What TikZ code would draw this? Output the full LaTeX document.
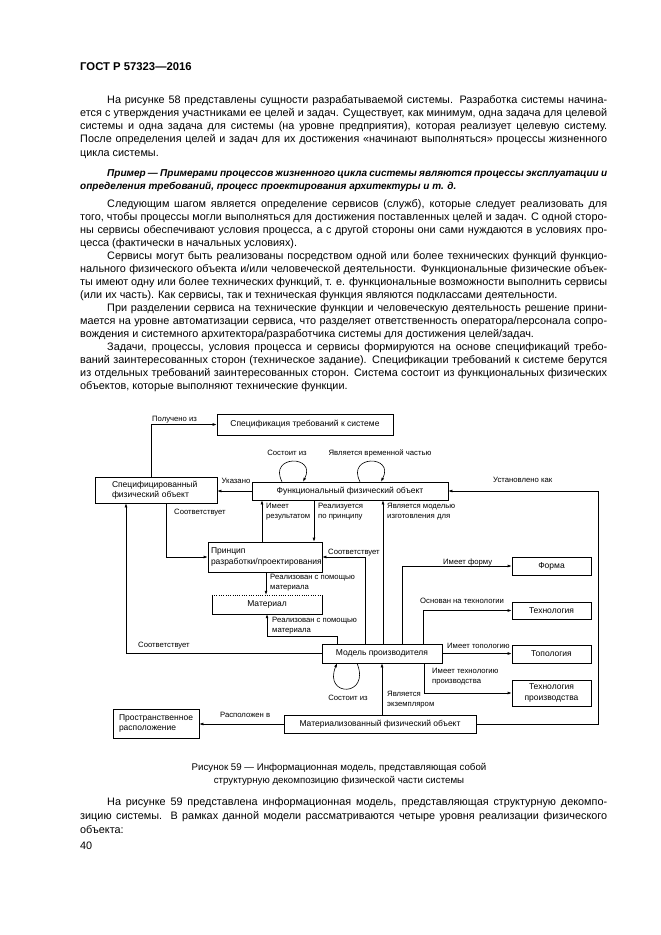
\documentclass[tikz,border=0pt]{standalone}
\usepackage{fontspec}
\setmainfont{Liberation Sans}
\usetikzlibrary{arrows.meta,calc}
\newcommand{\jl}[5]{\node[txt] (#1) at (#2,#3) {\makebox[#4pt][s]{#5}};}
\newcommand{\nl}[4]{\node[txt] (#1) at (#2,#3) {#4};}
\begin{document}
\begin{tikzpicture}[x=1pt,y=-1pt,
 txt/.style={anchor=mid west, inner sep=0pt, font=\fontsize{10.85}{13}\selectfont},
 ex/.style={txt, font=\bfseries\itshape\fontsize{10}{12}\selectfont},
 captxt/.style={anchor=mid, inner sep=0pt, font=\fontsize{9.7}{11}\selectfont},
 box/.style={draw, line width=0.6pt, inner sep=0pt, font=\fontsize{8.5}{10.5}\selectfont, align=center},
 lbl/.style={inner sep=0pt, font=\fontsize{7.7}{10}\selectfont, align=left},
 arr/.style={line width=0.6pt, -{Latex[length=4pt,width=2.8pt]}},
 ln/.style={line width=0.6pt}]
\fill[white] (0,0) rectangle (661,935);
\useasboundingbox (0,0) rectangle (661,935);

\node[anchor=mid west, inner sep=0pt, font=\bfseries\fontsize{11.3}{13}\selectfont] (hdr) at (80,68) {ГОСТ Р 57323—2016};

% paragraph 1
\jl{a1}{107}{101}{500}{На рисунке 58 представлены сущности разрабатываемой системы. Разработка системы начина-}
\jl{a2}{80}{114.1}{527}{ется с утверждения участниками ее целей и задач. Существует, как минимум, одна задача для целевой}
\jl{a3}{80}{127.2}{527}{системы и одна задача для системы (на уровне предприятия), которая реализует целевую систему.}
\jl{a4}{80}{140.3}{527}{После определения целей и задач для их достижения «начинают выполняться» процессы жизненного}
\nl{a5}{80}{153.4}{цикла системы.}

% example
\node[ex] (e1) at (107,173.5) {\makebox[500pt][s]{Пример — Примерами процессов жизненного цикла системы являются процессы эксплуатации и}};
\node[ex] (e2) at (80,186.5) {определения требований, процесс проектирования архитектуры и т. д.};

% paragraph 2
\jl{b1}{107}{205}{500}{Следующим шагом является определение сервисов (служб), которые следует реализовать для}
\jl{b2}{80}{218}{527}{того, чтобы процессы могли выполняться для достижения поставленных целей и задач. С одной сторо-}
\jl{b3}{80}{231}{527}{ны сервисы обеспечивают условия процесса, а с другой стороны они сами нуждаются в условиях про-}
\nl{b4}{80}{244}{цесса (фактически в начальных условиях).}

% paragraph 3
\jl{c1}{107}{257}{500}{Сервисы могут быть реализованы посредством одной или более технических функций функцио-}
\jl{c2}{80}{270}{527}{нального физического объекта и/или человеческой деятельности. Функциональные физические объек-}
\jl{c3}{80}{283}{527}{ты имеют одну или более технических функций, т. е. функциональные возможности выполнить сервисы}
\nl{c4}{80}{296}{(или их часть). Как сервисы, так и техническая функция являются подклассами деятельности.}

% paragraph 4
\jl{d1}{107}{309}{500}{При разделении сервиса на технические функции и человеческую деятельность решение прини-}
\jl{d2}{80}{322}{527}{мается на уровне автоматизации сервиса, что разделяет ответственность оператора/персонала сопро-}
\nl{d3}{80}{335}{вождения и системного архитектора/разработчика системы для достижения целей/задач.}

% paragraph 5
\jl{f1}{107}{348}{500}{Задачи, процессы, условия процесса и сервисы формируются на основе спецификаций требо-}
\jl{f2}{80}{361}{527}{ваний заинтересованных сторон (техническое задание). Спецификации требований к системе берутся}
\jl{f3}{80}{374}{527}{из отдельных требований заинтересованных сторон. Система состоит из функциональных физических}
\nl{f4}{80}{387}{объектов, которые выполняют технические функции.}

% ---------------- diagram ----------------
\node[box, minimum width=176, minimum height=21] (spec) at (305,424.5) {Спецификация требований к системе};
\node[box, minimum width=122, minimum height=26, text width=88, align=left] (spf) at (156,490) {Специфицированный\\физический объект};
\node[box, minimum width=196, minimum height=18] (ffo) at (350,491) {Функциональный физический объект};
\node[box, minimum width=114, minimum height=30, text width=108, align=left] (pr) at (265,557) {Принцип\\разработки/проектирования};
\node[inner sep=0pt, minimum width=110, minimum height=19, font=\fontsize{8.5}{10.5}\selectfont] (mat) at (267,604.5) {Материал};
\draw[ln] (mat.north west) -- (mat.south west) -- (mat.south east) -- (mat.north east);
\draw[ln, dash pattern=on 0.7pt off 1.6pt] (mat.north west) -- (mat.north east);
\node[box, minimum width=120, minimum height=19] (mp) at (382,653.5) {Модель производителя};
\node[box, minimum width=192, minimum height=18] (mfo) at (380,724) {Материализованный физический объект};
\node[box, minimum width=86, minimum height=29, text width=74, align=left] (pos) at (156,723.5) {Пространственное\\расположение};
\node[box, minimum width=79, minimum height=18] (forma) at (551.5,566) {Форма};
\node[box, minimum width=79, minimum height=17] (tech) at (551.5,610.5) {Технология};
\node[box, minimum width=79, minimum height=18] (topo) at (551.5,654) {Топология};
\node[box, minimum width=79, minimum height=26] (techp) at (551.5,693) {Технология\\производства};

% connectors
\draw[arr] ([xshift=-5pt]spf.north) |- (spec.west);
\node[lbl, anchor=mid west] (l1) at (152,418.5) {Получено из};

\draw[arr] (ffo.west) -- (ffo.west -| spf.east);
\node[lbl, anchor=mid] (l2) at (236,481) {Указано};

\draw[arr] ([xshift=-68pt]ffo.north) .. controls +(-14,-27) and +(14,-27) .. ([xshift=-47pt]ffo.north);
\node[lbl, anchor=mid] (l3) at (287,453) {Состоит из};
\draw[arr] ([xshift=10pt]ffo.north) .. controls +(-14,-27) and +(14,-27) .. ([xshift=31pt]ffo.north);
\node[lbl, anchor=mid] (l4) at (380,453) {Является временной частью};

\draw[arr] ([xshift=-3pt]pr.north) -- ([xshift=-3pt]pr.north |- ffo.south);
\node[lbl, anchor=north west] (l5) at (266,503) {Имеет\\результатом};
\draw[arr] ([xshift=-36pt]ffo.south) -- ([xshift=-36pt]ffo.south |- pr.north);
\node[lbl, anchor=north west] (l6) at (318,503) {Реализуется\\по принципу};
\draw[arr] ([xshift=1pt]mp.north) -- ([xshift=1pt]mp.north |- ffo.south);
\node[lbl, anchor=north west] (l7) at (387,503) {Является моделью\\изготовления для};

\draw[arr] ([xshift=-17pt]mp.north) |- (pr.east);
\node[lbl, anchor=mid west] (l8) at (328,551.5) {Соответствует};

\draw[arr] ([xshift=1pt]pr.south) -- ([xshift=1pt]pr.south |- mat.north);
\node[lbl, anchor=north west] (l9) at (270,573.5) {Реализован с помощью\\материала};
\draw[arr] ([xshift=-45pt]mp.north) -- ++(0,-7) -| (mat.south);
\node[lbl, anchor=north west] (l10) at (272,616.5) {Реализован с помощью\\материала};

\draw[arr] (mp.west) -| ([xshift=-30pt]spf.south);
\node[lbl, anchor=mid west] (l11) at (138,645) {Соответствует};
\draw[arr] ([xshift=10pt]spf.south) |- (pr.west);
\node[lbl, anchor=mid west] (l12) at (174,512) {Соответствует};

\draw[arr] ([xshift=20pt]mp.north) |- (forma.west);
\node[lbl, anchor=mid west] (l13) at (443,561.5) {Имеет форму};
\draw[arr] ([xshift=41pt]mp.north) |- (tech.west);
\node[lbl, anchor=mid west] (l14) at (420,601) {Основан на технологии};
\draw[arr] (mp.east) -- (mp.east -| topo.west);
\node[lbl, anchor=mid west] (l15) at (447,646) {Имеет топологию};
\draw[arr] ([xshift=42pt]mp.south) |- (techp.west);
\node[lbl, anchor=north west] (l16) at (432,668) {Имеет технологию\\производства};

\draw[arr] ([xshift=-25pt]mp.south) .. controls +(14,34) and +(-14,34) .. ([xshift=-45pt]mp.south);
\node[lbl, anchor=mid] (l17) at (348,698) {Состоит из};

\draw[arr] (mp.south |- mfo.north) -- (mp.south);
\node[lbl, anchor=north west] (l18) at (387,691) {Является\\экземпляром};

\draw[arr] (mfo.east) -- ++(122,0) |- (ffo.east);
\node[lbl, anchor=mid west] (l19) at (493,480) {Установлено как};

\draw[arr] (mfo.west) -- (mfo.west -| pos.east);
\node[lbl, anchor=mid west] (l20) at (220,715) {Расположен в};

% caption
\node[captxt] (cp1) at (339,768) {Рисунок 59 — Информационная модель, представляющая собой};
\node[captxt] (cp2) at (339,781) {структурную декомпозицию физической части системы};

% paragraph 6
\jl{g1}{107}{803}{500}{На рисунке 59 представлена информационная модель, представляющая структурную декомпо-}
\jl{g2}{80}{817}{527}{зицию системы. В рамках данной модели рассматриваются четыре уровня реализации физического}
\nl{g3}{80}{831}{объекта:}
\nl{pg}{80}{847}{40}
\end{tikzpicture}
\end{document}
